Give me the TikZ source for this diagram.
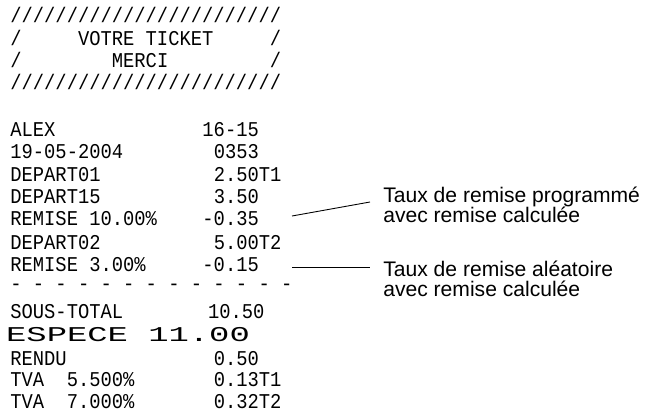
\documentclass[tikz,border=0pt]{standalone}
\usepackage{fontspec}
\setmainfont{Liberation Sans}
\setmonofont{Liberation Mono}
\usepackage{tikz}
\usetikzlibrary{calc}
\def\colw{11.3}
\newcommand\recleft[3]{%
  \node[rec] (#1) at (10,#2) {#3};
}
\begin{document}
\begin{tikzpicture}
[x=0.02cm, y=-0.02cm,
 rec/.style={anchor=west, inner sep=0, yscale=1.12, font=\fontsize{10.7}{12}\ttfamily},
 note/.style={anchor=west, inner sep=0, align=left, font=\fontsize{12}{11.6}\selectfont},
 pointer/.style={line width=0.5pt}]
\useasboundingbox (0,0) rectangle (645,412);
% header
\recleft{h1}{15}{////////////////////////}
\recleft{h2}{38}{/~~~~~VOTRE~TICKET~~~~~/}
\recleft{h3}{60}{/~~~~~~~~MERCI~~~~~~~~~/}
\recleft{h4}{82}{////////////////////////}
% receipt lines
\foreach \nam/\y/\lft/\col/\rgt in {alex/130/ALEX/17/16-15, date/152/19-05-2004/18/0353,
    dep1/175/DEPART01/18/2.50T1, dep15/197/DEPART15/18/3.50,
    rem1/219/REMISE~10.00\%/17/-0.35, dep2/243/DEPART02/18/5.00T2,
    rem2/265/REMISE~3.00\%/17/-0.15, sous/312/SOUS-TOTAL/17.5/10.50,
    rendu/359/RENDU/18/0.50, tva1/380/TVA~~5.500\%/18/0.13T1,
    tva2/402/TVA~~7.000\%/18/0.32T2}
  { \node[rec] (\nam l) at (10,\y) {\lft};
    \node[rec] (\nam r) at (10+\col*\colw,\y) {\rgt};
  }
\recleft{dash}{287}{-~-~-~-~-~-~-~-~-~-~-~-~-}
\node[rec, xscale=1.8] (esp) at (10/1.8,335) {ESPECE~11.00};
% notes
\node[note] (note1) at (383,205) {Taux de remise programmé\\avec remise calculée};
\node[note] (note2) at (383,279) {Taux de remise aléatoire\\avec remise calculée};
\coordinate (p1) at (292,216);
\coordinate (p2) at (292,267);
\draw[pointer] (p1) -- ($(note1.west)+(-13,-3)$);
\draw[pointer] (p2) -- ($(note2.west)+(-13,-12)$);
\end{tikzpicture}
\end{document}
